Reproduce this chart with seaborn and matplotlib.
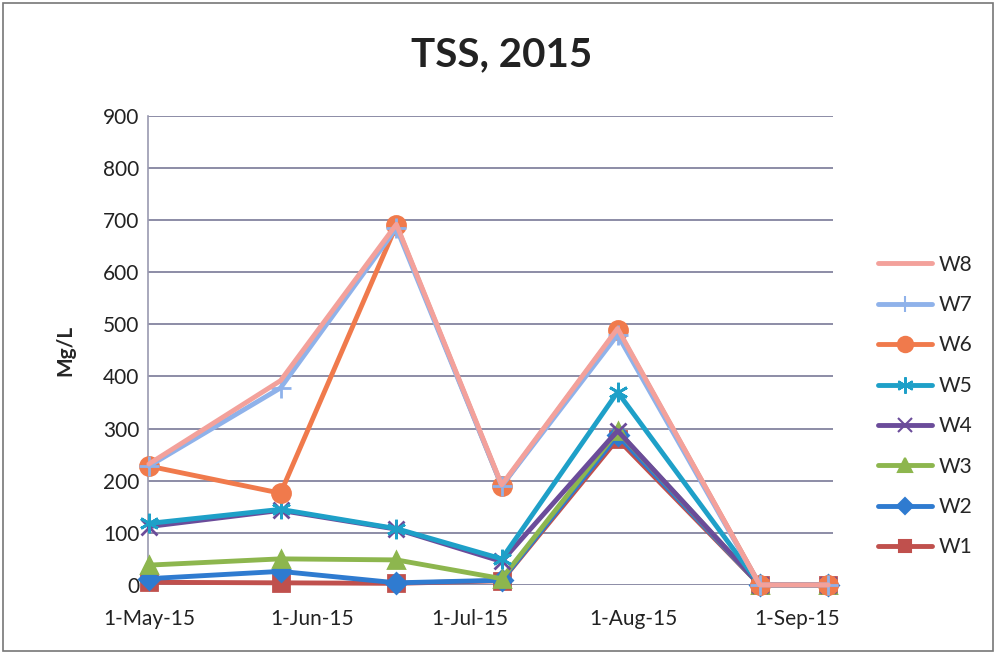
import pandas as pd
import matplotlib
matplotlib.use("Agg")
import matplotlib.pyplot as plt
import matplotlib.patches as mpatches
from matplotlib.lines import Line2D
import seaborn as sns

# sampling dates
dates = pd.to_datetime(["2015-05-01", "2015-05-26", "2015-06-17", "2015-07-07",
                        "2015-07-29", "2015-08-25", "2015-09-07"])

# TSS in Mg/L per site
w1 = [5, 4, 3, 8, 280, 0, 0]
w2 = [12, 26, 4, 9, 287, 0, 0]
w3 = [38, 50, 48, 12, 295, 0, 0]
w4 = [112, 143, 107, 45, 296, 0, 0]
w5 = [118, 145, 108, 50, 370, 0, 0]
w6 = [228, 176, 690, 190, 490, 0, 0]
w7 = [228, 378, 685, 190, 480, 0, 0]
w8 = [232, 392, 692, 192, 492, 0, 0]

sites = ["W1", "W2", "W3", "W4", "W5", "W6", "W7", "W8"]
series = [w1, w2, w3, w4, w5, w6, w7, w8]

tick_dates = pd.to_datetime(["2015-05-01", "2015-06-01", "2015-07-01",
                             "2015-08-01", "2015-09-01"])
tick_labels = ["1-May-15", "1-Jun-15", "1-Jul-15", "1-Aug-15", "1-Sep-15"]

colors = {"W1": "#c0504d", "W2": "#2f7bd0", "W3": "#8db64e", "W4": "#6b4c9a",
          "W5": "#1ea0c8", "W6": "#f07a4c", "W7": "#8fb2ea", "W8": "#f3a19b"}
markers = {"W1": "s", "W2": "D", "W3": "^", "W4": "x", "W5": (6, 2, 0),
           "W6": "o", "W7": "+", "W8": "o"}
msize = {"W1": 11, "W2": 10, "W3": 12, "W4": 12, "W5": 14,
         "W6": 13, "W7": 14, "W8": 0}

rows = []
for s, vals in zip(sites, series):
    for d, v in zip(dates, vals):
        rows.append({"date": d, "site": s, "tss": v})
df = pd.DataFrame(rows)

sns.set_theme(style="white")
plt.rcParams["font.family"] = ["Lato", "DejaVu Sans"]

fig = plt.figure(figsize=(9.97, 6.55), dpi=100)
ax = fig.add_axes([0.148, 0.107, 0.688, 0.716])

for s in sites:
    sub = df[df["site"] == s]
    sns.lineplot(data=sub, x="date", y="tss", ax=ax, color=colors[s],
                 marker=markers[s], markersize=msize[s], linewidth=3.5,
                 markeredgecolor=colors[s], markeredgewidth=2,
                 legend=False, zorder=3)

ax.set_ylim(0, 900)
ax.set_yticks(range(0, 901, 100))
ax.set_xlim(pd.Timestamp("2015-04-30 18:00"), pd.Timestamp("2015-09-08"))
ax.set_xticks(tick_dates)
ax.set_xticklabels(tick_labels)
ax.tick_params(axis="both", labelsize=15, colors="#222222", length=0)
ax.tick_params(axis="x", pad=17)
ax.tick_params(axis="y", pad=6)
ax.yaxis.grid(True, color="#8c8ca6", linewidth=1.4)
ax.xaxis.grid(False)
for side in ["top", "right", "bottom"]:
    ax.spines[side].set_visible(False)
ax.spines["left"].set_color("#9a9ab0")
ax.spines["left"].set_linewidth(1.2)
ax.set_xlabel("")
ax.set_ylabel("Mg/L", fontsize=15, fontweight="bold", labelpad=20)
for ln in ax.lines:
    ln.set_clip_on(False)

fig.suptitle("TSS, 2015", x=0.503, y=0.945, fontsize=29, fontweight="bold",
             color="#222222")

handles = []
for s in reversed(sites):
    handles.append(Line2D([], [], color=colors[s], linewidth=3.5,
                          marker=markers[s], markersize=msize[s] * 0.85,
                          markeredgecolor=colors[s], markeredgewidth=1.5))
fig.legend(handles, list(reversed(sites)), loc="upper left",
           bbox_to_anchor=(0.862, 0.64), frameon=False, fontsize=15,
           handlelength=2.6, labelspacing=0.98, handletextpad=0.3)

fig.patches.append(mpatches.Rectangle((0.003, 0.006), 0.993, 0.99,
                                      transform=fig.transFigure, fill=False,
                                      edgecolor="#777777", linewidth=1.2))

fig.savefig("out.png", dpi=100)
